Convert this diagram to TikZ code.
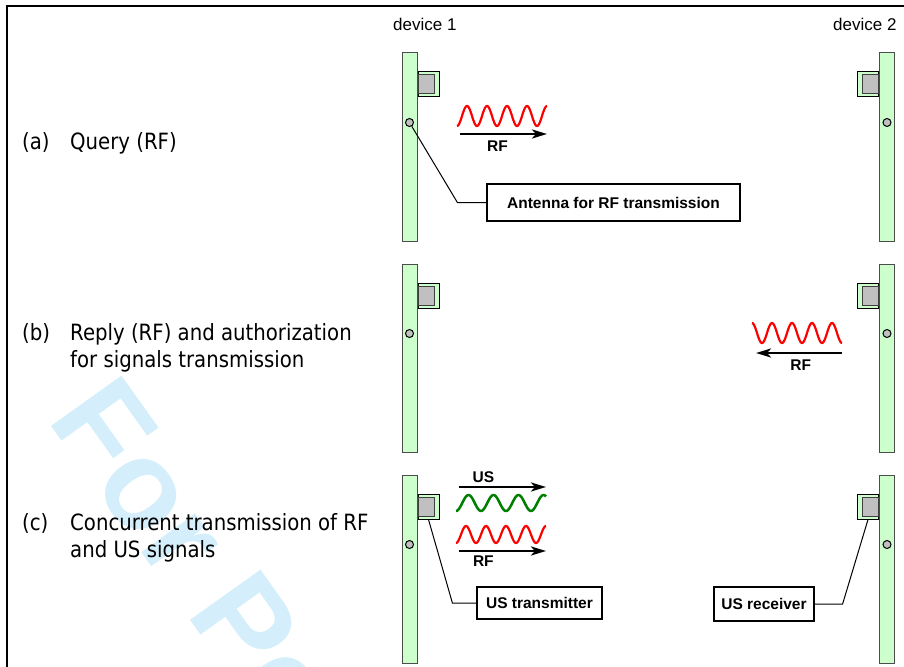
\documentclass[tikz,border=0pt]{standalone}
\usepackage{fontspec}
\setmainfont{Liberation Sans}
\newfontfamily\tahoma[FakeStretch=0.88]{DejaVu Sans}
\usetikzlibrary{positioning,calc,arrows.meta}
\definecolor{barfill}{RGB}{204,255,204}
\definecolor{chipgray}{RGB}{192,192,192}
\definecolor{rfred}{RGB}{255,0,0}
\definecolor{usgreen}{RGB}{0,128,0}
\definecolor{wmcyan}{RGB}{212,239,251}
\tikzstyle{board} = [draw=black!70, fill=barfill, line width=1pt, minimum width=15pt, minimum height=188pt, inner sep=0pt]
\tikzstyle{modbox} = [draw, fill=barfill, line width=1pt, minimum width=21pt, minimum height=25pt, inner sep=0pt]
\tikzstyle{chip} = [draw=black!75, fill=chipgray, line width=1pt, minimum width=16pt, minimum height=19pt, inner sep=0pt]
\tikzstyle{antenna} = [draw, fill=chipgray, circle, line width=1pt, minimum size=8pt, inner sep=0pt]
\tikzstyle{lblbox} = [draw, fill=white, line width=1.2pt, font=\fontsize{15.5pt}{18pt}\selectfont\bfseries]
\tikzstyle{sigtxt} = [font=\fontsize{15.5pt}{18pt}\selectfont\bfseries]
\tikzstyle{sig} = [-{Stealth[length=15pt,width=9pt,inset=4pt]}, line width=2.6pt]
\tikzstyle{leader} = [line width=1pt]
\tikzstyle{rowtxt} = [inner sep=0pt, anchor=base west, font=\tahoma\fontsize{22.4pt}{27pt}\selectfont]
\tikzstyle{devtxt} = [inner sep=0pt, anchor=base west, font=\fontsize{17pt}{20pt}\selectfont]
\tikzstyle{rfwave} = [rfred, line width=2.2pt, line join=round]
\tikzstyle{uswave} = [usgreen, line width=2.5pt, line join=round]
\tikzstyle{wmark} = [inner sep=0pt, text=wmcyan, font=\fontsize{126pt}{130pt}\selectfont\bfseries]

\begin{document}
\begin{tikzpicture}[x=1pt, y=-1pt]
\useasboundingbox (0,0) rectangle (904,666);
% watermark
\begin{scope}
\clip (0,0) rectangle (904,666);
\node[wmark, rotate=-54.5, anchor=base west] (wm) at (46.8,419.7) {For Peer Review};
\end{scope}
\draw[line width=2pt] (7,690) -- (7,6) -- (920,6);

% captions
\node[rowtxt] (capa1) at (22,149) {(a)};
\node[rowtxt] (capa2) at (70,149) {Query (RF)};
\node[rowtxt] (capb1) at (22,340) {(b)};
\node[rowtxt] (capb2) at (70,340) {Reply (RF) and authorization};
\node[rowtxt] (capb3) at ([yshift=-27pt]capb2.base west) {for signals transmission};
\node[rowtxt] (capc1) at (22,530) {(c)};
\node[rowtxt] (capc2) at (70,530) {Concurrent transmission of RF};
\node[rowtxt] (capc3) at ([yshift=-27pt]capc2.base west) {and US signals};

\node[devtxt] (dev1) at (393,31) {device 1};
\node[devtxt] (dev2) at (833,31) {device 2};

% device 1
\node[board] (brd1a) at (409.5,147) {};
\node[board, below=22pt of brd1a] (brd1b) {};
\node[board, below=22pt of brd1b] (brd1c) {};
\node[modbox, anchor=north west] (mod1a) at ([yshift=-19pt]brd1a.north east) {};
\node[modbox, anchor=north west] (mod1b) at ([yshift=-19pt]brd1b.north east) {};
\node[modbox, anchor=north west] (mod1c) at ([yshift=-19pt]brd1c.north east) {};
\node[chip, anchor=west] (chip1a) at (mod1a.west) {};
\node[chip, anchor=west] (chip1b) at (mod1b.west) {};
\node[chip, anchor=west] (chip1c) at (mod1c.west) {};
\node[antenna] (ant1a) at ([yshift=-70pt]brd1a.north) {};
\node[antenna] (ant1b) at ([yshift=-70pt]brd1b.north) {};
\node[antenna] (ant1c) at ([yshift=-70pt]brd1c.north) {};

% device 2
\node[board] (brd2a) at (887,147) {};
\node[board, below=22pt of brd2a] (brd2b) {};
\node[board, below=22pt of brd2b] (brd2c) {};
\node[modbox, anchor=north east] (mod2a) at ([yshift=-19pt]brd2a.north west) {};
\node[modbox, anchor=north east] (mod2b) at ([yshift=-19pt]brd2b.north west) {};
\node[modbox, anchor=north east] (mod2c) at ([yshift=-19pt]brd2c.north west) {};
\node[chip, anchor=east] (chip2a) at (mod2a.east) {};
\node[chip, anchor=east] (chip2b) at (mod2b.east) {};
\node[chip, anchor=east] (chip2c) at (mod2c.east) {};
\node[antenna] (ant2a) at ([yshift=-70pt]brd2a.north) {};
\node[antenna] (ant2b) at ([yshift=-70pt]brd2b.north) {};
\node[antenna] (ant2c) at ([yshift=-70pt]brd2c.north) {};

% labels
\node[lblbox, minimum width=253pt, minimum height=37pt] (lblant) at (613.5,202.5) {Antenna for RF transmission};
\node[lblbox, minimum width=125pt, minimum height=32pt] (lbltx) at (539.5,603) {US transmitter};
\node[lblbox, minimum width=100pt, minimum height=34pt] (lblrx) at (764,604) {US receiver};
\draw[leader] (ant1a) -- ($(lblant.west)+(-29,0)$) -- (lblant.west);
\draw[leader] (mod1c.south) -- ($(lbltx.west)+(-24,0)$) -- (lbltx.west);
\draw[leader] (mod2c.south) -- ($(lblrx.east)+(28,0)$) -- (lblrx.east);

% (a) query
\draw[rfwave] plot[domain=0:4.5, samples=150] ({457+20*\x}, {116+10*cos(360*\x)});
\coordinate (rfa0) at (460,134);
\coordinate (rfa1) at (547,134);
\draw[sig] (rfa0) -- node[sigtxt, below, pos=.43, yshift=-2pt] (rfatxt) {RF} (rfa1);

% (b) reply
\draw[rfwave] plot[domain=0:4.5, samples=150] ({752+20*\x}, {333-10*cos(360*\x)});
\coordinate (rfb0) at (842,353);
\coordinate (rfb1) at (756,353);
\draw[sig] (rfb0) -- node[sigtxt, below, pos=.48, yshift=-2pt] (rfbtxt) {RF} (rfb1);

% (c) RF + US
\coordinate (usc0) at (459,487);
\coordinate (usc1) at (546,487);
\draw[sig] (usc0) -- node[sigtxt, above, pos=.28] (usctxt) {US} (usc1);
\draw[uswave] plot[domain=0:3.6, samples=150] ({456+25*\x}, {503+8*cos(360*\x)});
\draw[rfwave] plot[domain=0:4.5, samples=150] ({456+20*\x}, {534.5+8.5*cos(360*\x)});
\coordinate (rfc0) at (459,551);
\coordinate (rfc1) at (546,551);
\draw[sig] (rfc0) -- node[sigtxt, below, pos=.28] (rfctxt) {RF} (rfc1);
\end{tikzpicture}
\end{document}
